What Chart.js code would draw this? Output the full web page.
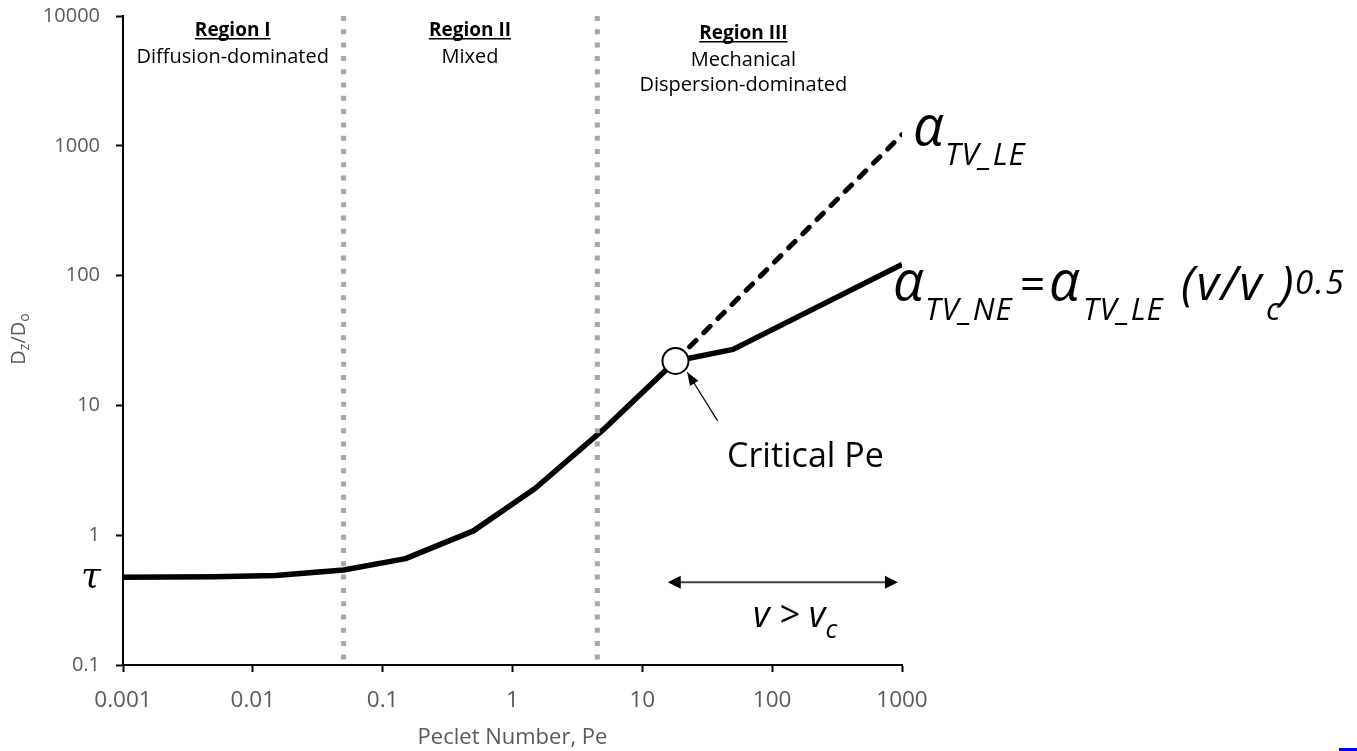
<!DOCTYPE html>
<html>
<head>
<meta charset="utf-8">
<script src="https://cdn.jsdelivr.net/npm/chart.js@4.4.0/dist/chart.umd.min.js"></script>
<style>
  body { margin: 0; background: #fff; }
  canvas { display: block; }
</style>
</head>
<body>
<canvas id="myChart" width="1357" height="751"></canvas>
<script>
// values (log-log)
const peMain = [0.001, 0.005, 0.015, 0.05, 0.15, 0.5, 1.5, 5, 18];
const dzMain = [0.475, 0.478, 0.49, 0.54, 0.66, 1.08, 2.3, 6.5, 22];
const peNE = [18, 50, 1000];
const dzNE = [22, 27, 122];
const peLE = [18, 1000];
const dzLE = [22, 1220];
const criticalPe = [18];
const criticalDz = [22];
const regionBounds = [0.05, 4.5];
const xTicks = [0.001, 0.01, 0.1, 1, 10, 100, 1000];
const yTicks = [0.1, 1, 10, 100, 1000, 10000];
const regionNames = ['Region I', 'Region II', 'Region III'];
const regionDesc = [['Diffusion-dominated'], ['Mixed'], ['Mechanical', 'Dispersion-dominated']];
const regionCenters = [0.007, 0.47, 60];

const pts = (xs, ys) => xs.map((v, i) => ({ x: v, y: ys[i] }));

Chart.defaults.font.family = "'Open Sans', sans-serif";

function drawRuns(ctx, x, y, runs) {
  for (const r of runs) {
    ctx.font = r.font;
    ctx.letterSpacing = r.ls || '0px';
    const px = r.at !== undefined ? r.at : x;
    ctx.fillText(r.text, px, y + (r.dy || 0));
    x = px + ctx.measureText(r.text).width + (r.gap || 0);
  }
  ctx.letterSpacing = '0px';
  return x;
}

function runsWidth(ctx, runs) {
  let w = 0;
  for (const r of runs) {
    ctx.font = r.font;
    w += ctx.measureText(r.text).width + (r.gap || 0);
  }
  return w;
}

function arrowHead(ctx, fx, fy, tx, ty, len, half) {
  const a = Math.atan2(ty - fy, tx - fx);
  ctx.beginPath();
  ctx.moveTo(tx, ty);
  ctx.lineTo(tx - len * Math.cos(a) + half * Math.sin(a), ty - len * Math.sin(a) - half * Math.cos(a));
  ctx.lineTo(tx - len * Math.cos(a) - half * Math.sin(a), ty - len * Math.sin(a) + half * Math.cos(a));
  ctx.closePath();
  ctx.fill();
}

const annotations = {
  id: 'annotations',
  afterDraw(chart) {
    const { ctx, scales: { x, y } } = chart;
    ctx.save();
    ctx.textBaseline = 'alphabetic';
    ctx.fillStyle = '#000';

    // region headings
    regionNames.forEach((name, i) => {
      const cx = x.getPixelForValue(regionCenters[i]);
      const off = i === 2 ? 3 : 0;
      ctx.textAlign = 'center';
      ctx.font = "bold 19px 'Open Sans'";
      ctx.fillText(name, cx, 36 + off);
      const w = ctx.measureText(name).width;
      ctx.fillRect(cx - w / 2, 38 + off, w, 1.5);
      ctx.font = "20px 'Open Sans'";
      regionDesc[i].forEach((t, j) => ctx.fillText(t, cx, 63 + off + j * 25));
    });
    ctx.textAlign = 'left';

    // y axis title D_z/D_o
    ctx.fillStyle = '#595959';
    ctx.save();
    ctx.translate(25, 339);
    ctx.rotate(-Math.PI / 2);
    const yRuns = [
      { text: 'D', font: "20px 'Open Sans'" },
      { text: 'z', font: "14px 'Open Sans'", dy: 4 },
      { text: '/D', font: "20px 'Open Sans'" },
      { text: 'o', font: "14px 'Open Sans'", dy: 4 }
    ];
    drawRuns(ctx, -runsWidth(ctx, yRuns) / 2, 0, yRuns);
    ctx.restore();

    ctx.fillStyle = '#000';
    // alpha labels
    drawRuns(ctx, 913, 145, [
      { text: 'α', font: "italic 54px 'Open Sans'" },
      { text: 'TV_LE', font: "italic 31px 'Open Sans'", dy: 20, ls: '1px', at: 945 }
    ]);
    drawRuns(ctx, 893, 300, [
      { text: 'α', font: "italic 54px 'Open Sans'" },
      { text: 'TV_NE', font: "italic 31px 'Open Sans'", dy: 20, ls: '1px', at: 925 },
      { text: '=', font: "44px 'Open Sans'", at: 1020 },
      { text: 'α', font: "italic 54px 'Open Sans'", at: 1049 },
      { text: 'TV_LE', font: "italic 31px 'Open Sans'", dy: 20, ls: '1px', at: 1083 },
      { text: '(v/v', font: "italic 48px 'Open Sans'", ls: '2px', at: 1181 },
      { text: 'c', font: "italic 31px 'Open Sans'", dy: 20, at: 1266 },
      { text: ')', font: "italic 48px 'Open Sans'", at: 1280 },
      { text: '0.5', font: "italic 33px 'Open Sans'", dy: -6, ls: '2px', at: 1295 }
    ]);

    // critical Pe pointer
    ctx.font = "34px 'Open Sans'";
    ctx.fillText('Critical Pe', 727, 467);
    const px0 = x.getPixelForValue(38), py0 = y.getPixelForValue(7.6);
    const px1 = x.getPixelForValue(22.2), py1 = y.getPixelForValue(18);
    ctx.strokeStyle = '#000';
    ctx.lineWidth = 1.2;
    ctx.beginPath();
    ctx.moveTo(px0, py0);
    ctx.lineTo(px1, py1);
    ctx.stroke();
    arrowHead(ctx, px0, py0, px1, py1, 13, 5);

    // v > v_c range arrow
    const ax0 = x.getPixelForValue(15.7), ax1 = x.getPixelForValue(930);
    const ay = y.getPixelForValue(0.434);
    ctx.strokeStyle = '#404040';
    ctx.lineWidth = 2;
    ctx.beginPath();
    ctx.moveTo(ax0 + 10, ay);
    ctx.lineTo(ax1 - 10, ay);
    ctx.stroke();
    arrowHead(ctx, ax1, ay, ax0, ay, 13, 6.5);
    arrowHead(ctx, ax0, ay, ax1, ay, 13, 6.5);
    drawRuns(ctx, 753, 627, [
      { text: 'v > v', font: "italic 36px 'Open Sans'" },
      { text: 'c', font: "italic 26px 'Open Sans'", dy: 11 }
    ]);

    // tau at the plateau
    ctx.font = "italic 36px 'DejaVu Serif'";
    ctx.fillText('τ', 81, 587);

    // small blue mark at the bottom right corner
    ctx.fillStyle = '#0000ff';
    ctx.fillRect(1339, 748, 18, 3);
    ctx.restore();
  }
};

const ctx = document.querySelector('#myChart').getContext('2d');

const config = {
  type: 'line',
  data: {
    datasets: [
      {
        data: pts(criticalPe, criticalDz),
        showLine: false,
        pointRadius: 13,
        pointBackgroundColor: '#fff',
        pointBorderColor: '#000',
        pointBorderWidth: 2,
        order: 1
      },
      {
        data: [{ x: regionBounds[0], y: 10000 }, { x: regionBounds[0], y: 0.1 }],
        borderColor: '#a6a6a6',
        borderWidth: 5,
        borderDash: [5, 8.3],
        pointRadius: 0,
        order: 2
      },
      {
        data: [{ x: regionBounds[1], y: 10000 }, { x: regionBounds[1], y: 0.1 }],
        borderColor: '#a6a6a6',
        borderWidth: 5,
        borderDash: [5, 8.3],
        pointRadius: 0,
        order: 2
      },
      {
        data: pts(peMain, dzMain),
        borderColor: '#000',
        borderWidth: 5.5,
        borderJoinStyle: 'round',
        pointRadius: 0,
        order: 3
      },
      {
        data: pts(peNE, dzNE),
        borderColor: '#000',
        borderWidth: 5.5,
        borderJoinStyle: 'round',
        pointRadius: 0,
        order: 3
      },
      {
        data: pts(peLE, dzLE),
        borderColor: '#000',
        borderWidth: 5,
        borderDash: [9, 11],
        borderCapStyle: 'round',
        pointRadius: 0,
        order: 3
      }
    ]
  },
  options: {
    responsive: false,
    animation: false,
    layout: { padding: { left: 0, right: 455, top: 16, bottom: 0 } },
    plugins: { legend: { display: false }, tooltip: { enabled: false } },
    scales: {
      x: {
        type: 'logarithmic',
        min: 0.001,
        max: 1000,
        afterBuildTicks: (s) => { s.ticks = xTicks.map((v) => ({ value: v })); },
        afterFit: (s) => {
          s.height = 86;
          s.paddingLeft = 0;
          s.paddingRight = 0;
        },
        ticks: {
          autoSkip: false,
          maxRotation: 0,
          padding: 15,
          color: '#595959',
          font: { size: 22.5 },
          callback: (v) => String(v)
        },
        grid: { drawOnChartArea: false, tickLength: 7, tickColor: '#000', tickWidth: 2 },
        border: { color: '#000', width: 2 },
        title: {
          display: true,
          text: 'Peclet Number, Pe',
          color: '#595959',
          font: { size: 22 },
          padding: { top: 0, bottom: 0 }
        }
      },
      y: {
        type: 'logarithmic',
        min: 0.1,
        max: 10000,
        afterBuildTicks: (s) => { s.ticks = yTicks.map((v) => ({ value: v })); },
        afterFit: (s) => {
          s.width = 123;
          s.paddingTop = 0;
          s.paddingBottom = 0;
        },
        ticks: {
          padding: 16,
          color: '#595959',
          font: { size: 20 },
          callback: (v) => String(v)
        },
        grid: { drawOnChartArea: false, tickLength: 7, tickColor: '#000', tickWidth: 2 },
        border: { color: '#000', width: 2 }
      }
    }
  },
  plugins: [annotations]
};

const myChart = new Chart(ctx, config);
</script>
</body>
</html>
